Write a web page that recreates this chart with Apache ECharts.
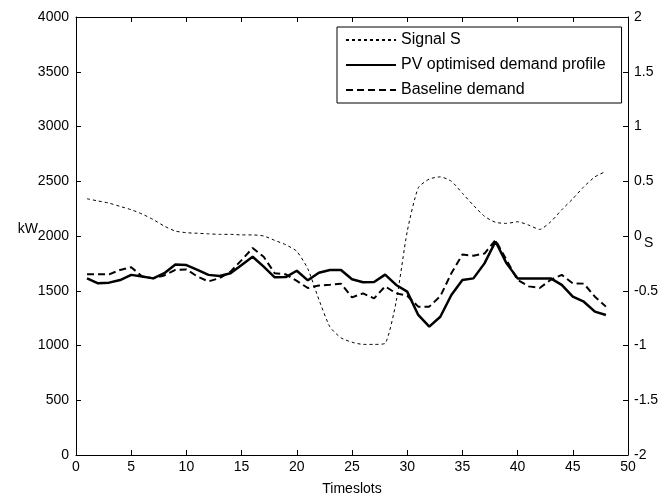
<!DOCTYPE html>
<html>
<head>
<meta charset="utf-8">
<script src="https://cdn.jsdelivr.net/npm/echarts@6/dist/echarts.min.js"></script>
<style>
  html, body { margin: 0; padding: 0; background: #fff; }
  #chart { width: 671px; height: 497px; }
</style>
</head>
<body>
<div id="chart"></div>
<script>
// timeslots 1..48
var timeslots = [];
for (var i = 1; i <= 48; i++) timeslots.push(i);

// signal S (right axis)
var signalS = [0.34, 0.32, 0.30, 0.27, 0.24, 0.20, 0.15, 0.09, 0.045, 0.03, 0.025, 0.02,
  0.015, 0.015, 0.01, 0.01, 0.0, -0.04, -0.08, -0.14, -0.30, -0.58, -0.83, -0.93,
  -0.97, -0.99, -0.99, -0.98, -0.6, 0.04, 0.44, 0.52, 0.54, 0.50, 0.39, 0.28,
  0.18, 0.125, 0.115, 0.13, 0.10, 0.06, 0.13, 0.24, 0.34, 0.45, 0.54, 0.59];

// PV optimised demand profile (kW)
var pvDemand = [1613, 1568, 1574, 1598, 1645, 1630, 1613, 1660, 1740, 1735, 1690, 1645,
  1635, 1660, 1735, 1810, 1720, 1623, 1625, 1683, 1595, 1665, 1690, 1690,
  1605, 1577, 1580, 1647, 1553, 1492, 1279, 1172, 1263, 1461, 1598, 1613,
  1750, 1950, 1750, 1613, 1613, 1613, 1613, 1553, 1446, 1400, 1309, 1279];

// Baseline demand (kW)
var baseDemand = [1650, 1650, 1650, 1690, 1715, 1630, 1613, 1640, 1690, 1695, 1630, 1585,
  1615, 1675, 1780, 1890, 1810, 1660, 1650, 1590, 1525, 1548, 1555, 1565,
  1440, 1476, 1430, 1540, 1476, 1455, 1355, 1355, 1450, 1660, 1830, 1820,
  1840, 1963, 1780, 1598, 1540, 1525, 1600, 1645, 1568, 1565, 1446, 1355];

function pairs(ys) {
  return timeslots.map(function (t, k) { return [t, ys[k]]; });
}

var font = "'Liberation Sans Narrow', 'Liberation Sans', sans-serif";
var axisLine = { show: true, onZero: false, lineStyle: { color: '#000', width: 1 } };
var tick = { show: true, inside: true, length: 5, lineStyle: { color: '#000' } };
var lbl = { color: '#000', fontSize: 14, fontFamily: font };
var plain = function (v) { return String(v); };

var chart = echarts.init(document.getElementById('chart'), null, { renderer: 'canvas' });
chart.setOption({
  backgroundColor: '#fff',
  animation: false,
  grid: { left: 76, right: 43, top: 17, bottom: 42, containLabel: false, outerBoundsMode: 'none' },
  legend: {
    left: 337, top: 27,
    orient: 'vertical',
    backgroundColor: '#fff',
    borderColor: '#000', borderWidth: 1,
    padding: [5, 16, 5, 8],
    itemWidth: 50, itemHeight: 14, itemGap: 9,
    itemStyle: { opacity: 0 },
    textStyle: { color: '#000', fontSize: 16, fontFamily: "'Liberation Sans', Arial, sans-serif" },
    data: ['Signal S', 'PV optimised demand profile', 'Baseline demand']
  },
  xAxis: [{
    type: 'value', min: 0, max: 50, interval: 5,
    name: 'Timeslots', nameLocation: 'middle', nameGap: 27,
    nameTextStyle: lbl,
    axisLine: axisLine, axisTick: tick,
    axisLabel: Object.assign({ margin: 5, formatter: plain }, lbl),
    splitLine: { show: false }
  }, {
    type: 'value', min: 0, max: 50, interval: 5, position: 'top',
    axisLine: axisLine, axisTick: tick,
    axisLabel: { show: false }, splitLine: { show: false }
  }],
  yAxis: [{
    type: 'value', min: 0, max: 4000, interval: 500,
    name: 'kW', nameLocation: 'middle', nameRotate: 0, nameGap: 38, nameMoveOverlap: false,
    nameTextStyle: Object.assign({ verticalAlign: 'bottom' }, lbl),
    axisLine: axisLine, axisTick: tick,
    axisLabel: Object.assign({ margin: 7, formatter: plain }, lbl),
    splitLine: { show: false }
  }, {
    type: 'value', min: -2, max: 2, interval: 0.5, position: 'right',
    name: 'S', nameLocation: 'middle', nameRotate: 0, nameGap: 16, nameMoveOverlap: false,
    nameTextStyle: Object.assign({ verticalAlign: 'top' }, lbl),
    axisLine: axisLine, axisTick: tick,
    axisLabel: Object.assign({ margin: 6, formatter: plain }, lbl),
    splitLine: { show: false }
  }],
  series: [{
    name: 'Signal S', type: 'line', yAxisIndex: 1,
    data: pairs(signalS), symbol: 'none', smooth: 0.2,
    lineStyle: { color: '#000', width: 1, type: [3, 3] },
    itemStyle: { color: '#000' }
  }, {
    name: 'PV optimised demand profile', type: 'line', yAxisIndex: 0,
    data: pairs(pvDemand), symbol: 'none',
    lineStyle: { color: '#000', width: 2.5 },
    itemStyle: { color: '#000' }
  }, {
    name: 'Baseline demand', type: 'line', yAxisIndex: 0,
    data: pairs(baseDemand), symbol: 'none',
    lineStyle: { color: '#000', width: 2, type: [7, 4] },
    itemStyle: { color: '#000' }
  }]
});
</script>
</body>
</html>
